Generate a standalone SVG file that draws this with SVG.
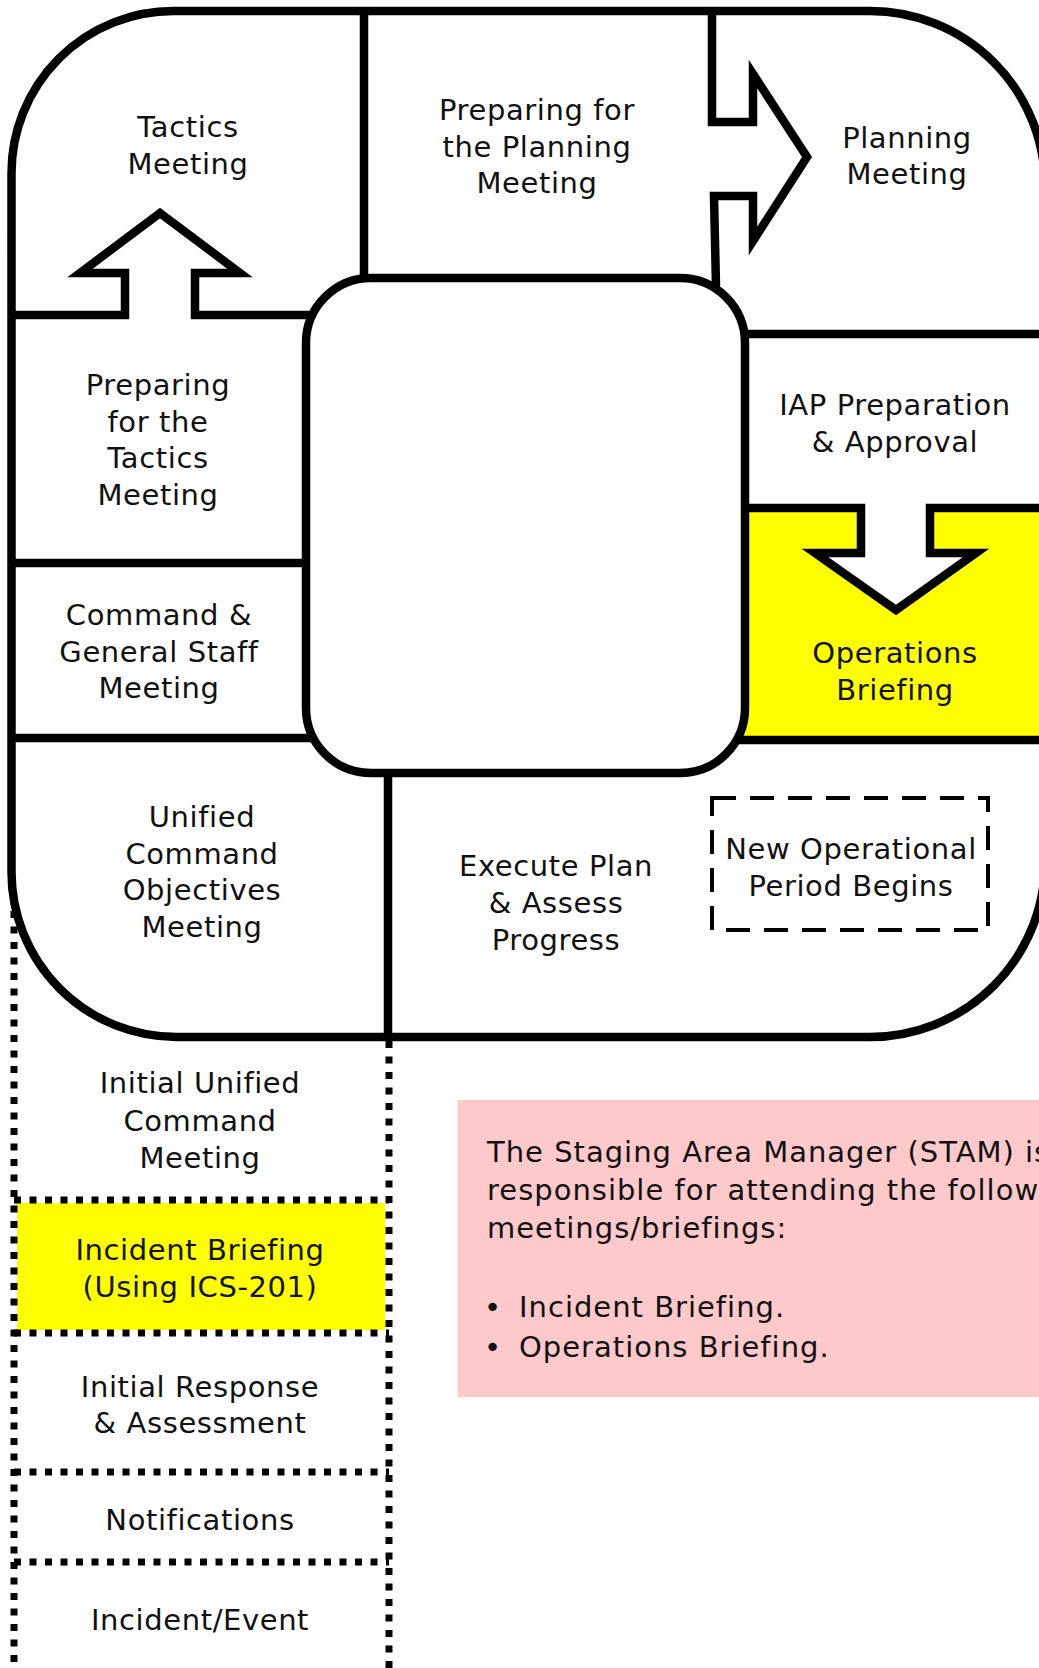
<svg xmlns="http://www.w3.org/2000/svg" width="1039" height="1668" viewBox="0 0 1039 1668">
  <style>
    .line { fill: none; stroke: #000; stroke-width: 8.5; stroke-linejoin: miter; stroke-miterlimit: 10; }
    .arrow { fill: #fff; stroke: #000; stroke-width: 8.5; stroke-linejoin: miter; stroke-miterlimit: 10; }
    .dots { fill: none; stroke: #000; stroke-width: 7; stroke-dasharray: 7 8.5; }
    .dash { fill: none; stroke: #000; stroke-width: 4; stroke-dasharray: 24 14; }
    .lbl { font-family: "DejaVu Sans", "Liberation Sans", sans-serif; font-size: 29px; letter-spacing: 0.6px; fill: #111; text-anchor: middle; }
    .note { font-family: "DejaVu Sans", "Liberation Sans", sans-serif; font-size: 29px; fill: #111; letter-spacing: 1px; }
    .hi { fill: #ffff00; }
  </style>

  <rect x="0" y="0" width="1039" height="1668" fill="#fff"/>

  <!-- Initial response column (dotted) -->
  <g id="incident-briefing-fill">
    <rect class="hi" x="17" y="1203" width="368" height="127"/>
  </g>
  <g id="startup-column">
    <path class="dots" d="M14,880 V1668"/>
    <path class="dots" d="M389,1041 V1668"/>
    <path class="dots" d="M14,1200 H389"/>
    <path class="dots" d="M14,1333 H389"/>
    <path class="dots" d="M14,1472 H389"/>
    <path class="dots" d="M14,1562 H389"/>
  </g>

  <!-- Planning cycle frame -->
  <g id="frame">
    <path d="M173.5,11 H870 A175,175 0 0 1 1045,186 V862 A175,175 0 0 1 870,1037 H176.5 A165,165 0 0 1 11.5,872 V173 A162,162 0 0 1 173.5,11 Z" fill="#fff" stroke="#000" stroke-width="8.5"/>
    <rect class="hi" x="700" y="508" width="345" height="232"/>
    <path class="line" d="M364,11 V282"/>
    <path class="line" d="M11.5,563 H312"/>
    <path class="line" d="M11.5,738 H320"/>
    <path class="line" d="M388,768 V1037"/>
    <path class="line" d="M738,334 H1045"/>
    <path class="line" d="M738,740 H1045"/>
  </g>

  <!-- Block arrows between steps -->
  <g id="connectors">
    <path class="arrow" d="M11.5,315 H125 V273 H80 L160,213 L240,273 H195 V315 H312"/>
    <path class="arrow" d="M712,11 V122 H753 V74 L807,157 L753,241 V196 H714 L716,286"/>
    <path class="arrow" d="M740,508 H861 V553 H815 L896,610 L976,553 H930 V508 H1045"/>
  </g>

  <!-- Central hub -->
  <g id="hub">
    <rect x="306" y="278" width="439" height="495" rx="65" ry="65" fill="#fff" stroke="#000" stroke-width="8.5"/>
  </g>

  <g id="tactics-meeting">
    <text class="lbl" x="188" y="137">Tactics</text>
    <text class="lbl" x="188" y="174">Meeting</text>
  </g>
  <g id="preparing-planning">
    <text class="lbl" x="537" y="120">Preparing for</text>
    <text class="lbl" x="537" y="157">the Planning</text>
    <text class="lbl" x="537" y="193">Meeting</text>
  </g>
  <g id="planning-meeting">
    <text class="lbl" x="907" y="148">Planning</text>
    <text class="lbl" x="907" y="184">Meeting</text>
  </g>
  <g id="preparing-tactics">
    <text class="lbl" x="158" y="395">Preparing</text>
    <text class="lbl" x="158" y="432">for the</text>
    <text class="lbl" x="158" y="468">Tactics</text>
    <text class="lbl" x="158" y="505">Meeting</text>
  </g>
  <g id="iap-preparation">
    <text class="lbl" x="895" y="415">IAP Preparation</text>
    <text class="lbl" x="895" y="452">&amp; Approval</text>
  </g>
  <g id="command-general-staff">
    <text class="lbl" x="159" y="625">Command &amp;</text>
    <text class="lbl" x="159" y="662">General Staff</text>
    <text class="lbl" x="159" y="698">Meeting</text>
  </g>
  <g id="operations-briefing">
    <text class="lbl" x="895" y="663">Operations</text>
    <text class="lbl" x="895" y="700">Briefing</text>
  </g>
  <g id="uc-objectives">
    <text class="lbl" x="202" y="827">Unified</text>
    <text class="lbl" x="202" y="864">Command</text>
    <text class="lbl" x="202" y="900">Objectives</text>
    <text class="lbl" x="202" y="937">Meeting</text>
  </g>
  <g id="execute-plan">
    <text class="lbl" x="556" y="876">Execute Plan</text>
    <text class="lbl" x="556" y="913">&amp; Assess</text>
    <text class="lbl" x="556" y="950">Progress</text>
  </g>
  <g id="new-period">
    <rect class="dash" x="712" y="798" width="276" height="132"/>
    <text class="lbl" x="851" y="859">New Operational</text>
    <text class="lbl" x="851" y="896">Period Begins</text>
  </g>

  <g id="initial-uc-meeting">
    <text class="lbl" x="200" y="1093">Initial Unified</text>
    <text class="lbl" x="200" y="1131">Command</text>
    <text class="lbl" x="200" y="1168">Meeting</text>
  </g>
  <g id="incident-briefing">
    <text class="lbl" x="200" y="1260">Incident Briefing</text>
    <text class="lbl" x="200" y="1297">(Using ICS-201)</text>
  </g>
  <g id="initial-response">
    <text class="lbl" x="200" y="1397">Initial Response</text>
    <text class="lbl" x="200" y="1433">&amp; Assessment</text>
  </g>
  <g id="notifications">
    <text class="lbl" x="200" y="1530">Notifications</text>
  </g>
  <g id="incident-event">
    <text class="lbl" x="200" y="1630">Incident/Event</text>
  </g>

  <!-- STAM responsibilities note -->
  <g id="stam-note">
    <rect x="457.5" y="1100" width="600" height="297" fill="#fdc9cb"/>
    <text class="note" x="487" y="1162">The Staging Area Manager (STAM) is</text>
    <text class="note" x="487" y="1200">responsible for attending the following</text>
    <text class="note" x="487" y="1238">meetings/briefings:</text>
    <text class="note" x="484" y="1317">•</text>
    <text class="note" x="519" y="1317">Incident Briefing.</text>
    <text class="note" x="484" y="1357">•</text>
    <text class="note" x="519" y="1357">Operations Briefing.</text>
  </g>
</svg>
